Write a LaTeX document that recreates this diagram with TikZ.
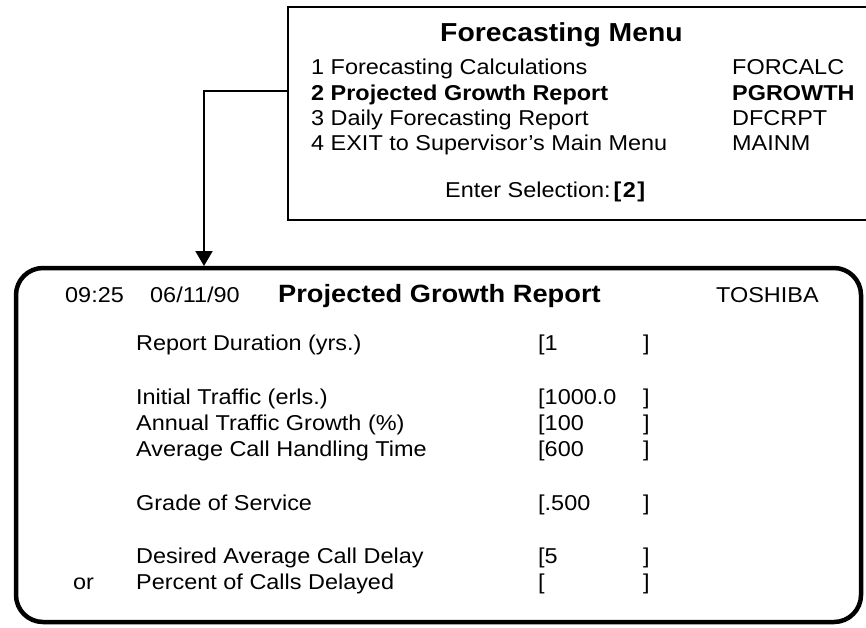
\documentclass[tikz,border=0pt]{standalone}
\usepackage{fontspec}
\setmainfont{Liberation Sans}[FakeStretch=1.09]
\usetikzlibrary{arrows.meta}
\tikzset{
  txt/.style={anchor=base west, inner sep=0pt, font=\fontsize{21.5}{26}\selectfont},
  bold/.style={txt, font=\fontsize{21.5}{26}\selectfont\bfseries},
  ttl/.style={anchor=base west, inner sep=0pt, font=\fontsize{26}{30}\selectfont\bfseries},
  frame/.style={draw, line width=2.5pt, outer sep=0pt, inner sep=0pt},
  screen/.style={draw, line width=4.5pt, rounded corners=27pt, outer sep=0pt, inner sep=0pt},
  link/.style={line width=2pt, -{Triangle[width=17pt,length=15pt]}}
}
\begin{document}
\begin{tikzpicture}[x=1pt,y=-1pt]
\useasboundingbox (0,0) rectangle (866,627);

% menu window (runs off the right edge)
\node[frame, minimum width=620pt, minimum height=213pt, anchor=north west] (menu) at (288,7) {};
\node[ttl] (mtitle) at (440,41) {Forecasting Menu};
\node[txt] (m1) at (311,74) {1 Forecasting Calculations};
\node[bold] (m2) at (311,100) {2 Projected Growth Report};
\node[txt] (m3) at (311,125) {3 Daily Forecasting Report};
\node[txt] (m4) at (311,150) {4 EXIT to Supervisor{\char"27}s Main Menu};
\node[txt] (c1) at (732,74) {FORCALC};
\node[bold] (c2) at (732,100) {PGROWTH};
\node[txt] (c3) at (732,125) {DFCRPT};
\node[txt] (c4) at (732,150) {MAINM};
\node[txt] (sel) at (445,197) {Enter Selection:\kern3pt\textbf{[\kern1.5pt2\kern1.5pt]}};

% report screen
\node[screen, minimum width=845pt, minimum height=354pt, anchor=north west] (report) at (16,268) {};

% connector from the menu to the screen
\coordinate (bend) at (204,91);
\draw[link, shorten >=2pt] (menu.west |- bend) -- (bend) -- (bend |- report.north);

% header line
\node[txt] (time) at (65,302) {09:25};
\node[txt] (date) at (150,302) {06/11/90};
\node[ttl, font=\fontsize{25}{28}\selectfont\bfseries] (rtitle) at (278,302) {Projected Growth Report};
\node[txt] (host) at (716,302) {TOSHIBA};

% fields
\node[txt] (f1) at (136,350) {Report Duration (yrs.)};
\node[txt] (f2) at (136,404) {Initial Traffic (erls.)};
\node[txt] (f3) at (136,430) {Annual Traffic Growth (\%)};
\node[txt] (f4) at (136,456) {Average Call Handling Time};
\node[txt] (f5) at (136,510) {Grade of Service};
\node[txt] (f6) at (136,563) {Desired Average Call Delay};
\node[txt] (f7) at (136,589) {Percent of Calls Delayed};
\node[txt] (or) at (73,589) {or};

% values
\node[txt] (v1) at (538,350) {[1};
\node[txt] (v2) at (538,404) {[1000.0};
\node[txt] (v3) at (538,430) {[100};
\node[txt] (v4) at (538,456) {[600};
\node[txt] (v5) at (538,510) {[.500};
\node[txt] (v6) at (538,563) {[5};
\node[txt] (v7) at (538,589) {[};
\foreach \y/\n in {350/1,404/2,430/3,456/4,510/5,563/6,589/7}
  \node[txt] (e\n) at (643,\y) {]};
\end{tikzpicture}
\end{document}
